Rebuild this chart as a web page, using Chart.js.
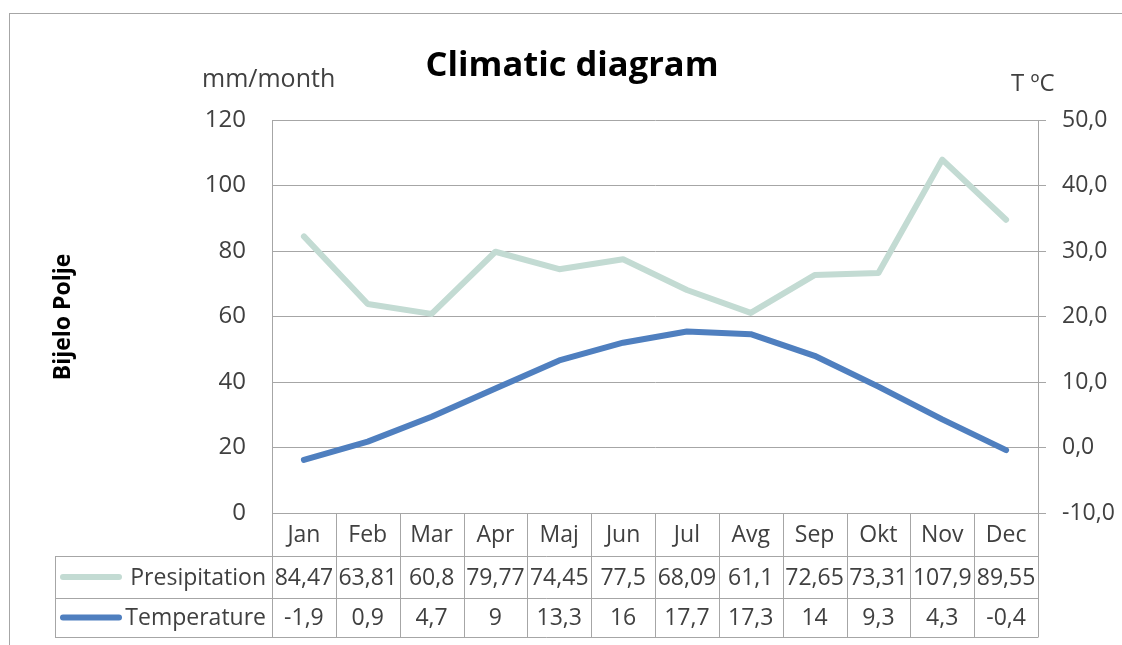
<!DOCTYPE html>
<html>
<head>
<meta charset="utf-8">
<script src="https://cdn.jsdelivr.net/npm/chart.js@4.4.1/dist/chart.umd.min.js"></script>
<style>
  html, body { margin: 0; padding: 0; background: #ffffff; }
  #wrap { width: 1122px; height: 645px; position: relative; }
</style>
</head>
<body>
<div id="wrap"><canvas id="c" width="1122" height="645"></canvas></div>
<script>
const months = ['Jan','Feb','Mar','Apr','Maj','Jun','Jul','Avg','Sep','Okt','Nov','Dec'];
const precipitation = [84.47,63.81,60.8,79.77,74.45,77.5,68.09,61.1,72.65,73.31,107.9,89.55];
const temperature = [-1.9,0.9,4.7,9,13.3,16,17.7,17.3,14,9.3,4.3,-0.4];
const seriesNames = ['Presipitation','Temperature'];
const titleText = 'Climatic diagram';
const leftUnit = 'mm/month';
const rightUnit = 'T ºC';
const stationName = 'Bijelo Polje';

const FONT = '"Open Sans", Lato, sans-serif';
const GRID = '#a6a6a6';
const TEXT = '#404040';
const C_PRECIP = '#c3dbd3';
const C_TEMP = '#4f7fbf';

const fmt = v => String(v).replace('.', ',');

const decor = {
  id: 'decor',
  afterDraw(chart) {
    const ctx = chart.ctx;
    const x = chart.scales.x;
    const area = chart.chartArea;
    ctx.save();
    // outer frame
    ctx.strokeStyle = GRID;
    ctx.lineWidth = 1;
    ctx.strokeRect(9.5, 13.5, 1300, 800);

    // title
    ctx.fillStyle = '#000';
    ctx.font = 'bold 34.5px ' + FONT;
    ctx.textAlign = 'center';
    ctx.textBaseline = 'alphabetic';
    ctx.fillText(titleText, 572, 76);

    // unit labels
    ctx.fillStyle = TEXT;
    ctx.font = '25px ' + FONT;
    ctx.textAlign = 'left';
    ctx.fillText(leftUnit, 202, 87);
    ctx.font = '24px ' + FONT;
    ctx.fillText(rightUnit, 1011, 91);

    // station name rotated
    ctx.save();
    ctx.translate(70, 317);
    ctx.rotate(-Math.PI / 2);
    ctx.fillStyle = '#000';
    ctx.font = 'bold 23px ' + FONT;
    ctx.textAlign = 'center';
    ctx.textBaseline = 'alphabetic';
    ctx.fillText(stationName, 0, 0);
    ctx.restore();

    // data table
    const n = months.length;
    const colW = (area.right - area.left) / n;
    const top = Math.round(area.bottom);
    const r1 = 556, r2 = 598, r3 = 637;
    const tableLeft = 55;
    ctx.strokeStyle = GRID;
    ctx.lineWidth = 1;
    ctx.beginPath();
    for (let i = 0; i <= n; i++) {
      const px = Math.round(x.getPixelForValue(Math.min(i, n - 1)) + (i === n ? colW / 2 : -colW / 2)) + 0.5;
      ctx.moveTo(px, top);
      ctx.lineTo(px, r3);
    }
    [r1, r2, r3].forEach(y => {
      ctx.moveTo(tableLeft, y + 0.5);
      ctx.lineTo(Math.round(area.right) + 0.5, y + 0.5);
    });
    ctx.moveTo(tableLeft + 0.5, r1);
    ctx.lineTo(tableLeft + 0.5, r3 + 0.5);
    ctx.stroke();

    ctx.fillStyle = TEXT;
    ctx.font = '23px ' + FONT;
    ctx.textAlign = 'center';
    ctx.textBaseline = 'middle';
    const rows = [
      { y: (top + r1) / 2 + 1, vals: months },
      { y: (r1 + r2) / 2 + 1, vals: precipitation.map(fmt) },
      { y: (r2 + r3) / 2 + 1, vals: temperature.map(fmt) }
    ];
    rows.forEach(r => {
      r.vals.forEach((v, i) => {
        ctx.fillText(v, x.getPixelForValue(i), r.y);
      });
    });

    // legend keys in the table
    const keys = [
      { y: (r1 + r2) / 2, color: C_PRECIP, name: seriesNames[0] },
      { y: (r2 + r3) / 2, color: C_TEMP, name: seriesNames[1] }
    ];
    keys.forEach(k => {
      ctx.strokeStyle = k.color;
      ctx.lineWidth = 6;
      ctx.lineCap = 'round';
      ctx.beginPath();
      ctx.moveTo(63, k.y);
      ctx.lineTo(119, k.y);
      ctx.stroke();
      ctx.fillStyle = TEXT;
      ctx.textAlign = 'right';
      ctx.fillText(k.name, area.left - 6, k.y + 1);
    });
    ctx.restore();
  }
};

function build() {
  new Chart(document.getElementById('c'), {
    type: 'line',
    data: {
      labels: months,
      datasets: [
        {
          label: seriesNames[0],
          data: precipitation,
          yAxisID: 'y',
          borderColor: C_PRECIP,
          backgroundColor: C_PRECIP,
          borderWidth: 6,
          pointRadius: 0,
          tension: 0,
          borderCapStyle: 'round',
          borderJoinStyle: 'round',
          order: 2
        },
        {
          label: seriesNames[1],
          data: temperature,
          yAxisID: 'y1',
          borderColor: C_TEMP,
          backgroundColor: C_TEMP,
          borderWidth: 6,
          pointRadius: 0,
          tension: 0,
          borderCapStyle: 'round',
          borderJoinStyle: 'round',
          order: 1
        }
      ]
    },
    options: {
      responsive: false,
      animation: false,
      layout: { padding: { left: 0, right: 0, top: 120, bottom: 132 } },
      plugins: {
        legend: { display: false },
        title: { display: false },
        tooltip: { enabled: false }
      },
      scales: {
        x: {
          display: false,
          offset: true
        },
        y: {
          position: 'left',
          min: 0,
          max: 120,
          ticks: {
            stepSize: 20,
            padding: 26,
            color: TEXT,
            font: { family: FONT, size: 24 }
          },
          grid: { color: GRID, drawTicks: false, lineWidth: 1 },
          border: { display: true, color: GRID, width: 1 },
          afterFit(s) { s.width = 272; }
        },
        y1: {
          position: 'right',
          min: -10,
          max: 50,
          ticks: {
            stepSize: 10,
            padding: 16,
            color: TEXT,
            font: { family: FONT, size: 23 },
            callback: v => Number(v).toFixed(1).replace('.', ',')
          },
          grid: { drawOnChartArea: false, drawTicks: true, tickLength: 8, color: GRID },
          border: { display: true, color: GRID, width: 1 },
          afterFit(s) { s.width = 84; }
        }
      }
    },
    plugins: [decor]
  });
}

if (document.fonts && document.fonts.load) {
  Promise.all([
    document.fonts.load('23px "Open Sans"'),
    document.fonts.load('bold 34px "Open Sans"')
  ]).then(build, build);
} else {
  build();
}
</script>
</body>
</html>
